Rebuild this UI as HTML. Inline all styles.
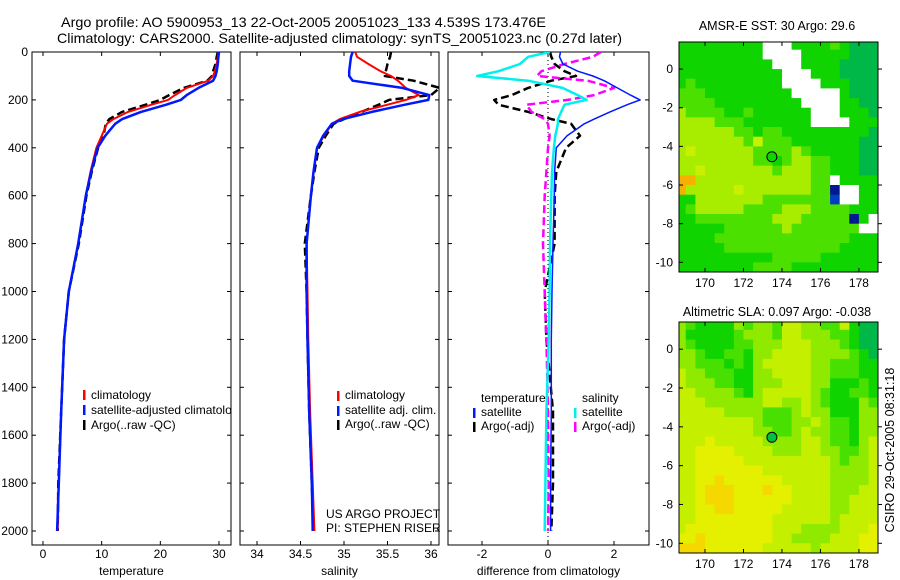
<!DOCTYPE html>
<html><head><meta charset="utf-8"><style>
body{margin:0;background:#fff;}
svg{display:block;font-family:"Liberation Sans",sans-serif;}
</style></head><body>
<svg id="c" width="900" height="580" viewBox="0 0 900 580">
<text x="61" y="27" font-size="14" textLength="485" lengthAdjust="spacingAndGlyphs">Argo profile: AO 5900953_13 22-Oct-2005 20051023_133 4.539S 173.476E</text>
<text x="57" y="43" font-size="14" textLength="565" lengthAdjust="spacingAndGlyphs">Climatology: CARS2000. Satellite-adjusted climatology: synTS_20051023.nc (0.27d later)</text>
<text x="777" y="30" font-size="12.5" text-anchor="middle">AMSR-E SST: 30 Argo: 29.6</text>
<text x="777" y="316" font-size="12.5" text-anchor="middle">Altimetric SLA: 0.097 Argo: -0.038</text>
<text transform="translate(894,450) rotate(-90)" font-size="12.5" text-anchor="middle">CSIRO 29-Oct-2005 08:31:18</text>
<g id="g"></g>
</svg>
<script>
// ---- profile data ----
const depths=[0,20,50,80,100,120,150,180,200,220,250,280,300,350,400,500,600,800,1000,1200,1500,1800,2000];
const tempClim=[29.9,29.8,29.6,29.3,29.0,28.2,24.5,22.5,21.3,18.5,14.5,12.0,10.9,10.0,9.1,8.1,7.3,6.0,4.4,3.6,3.1,2.7,2.5];
const tempSat=[30.0,29.9,29.8,29.6,29.4,29.0,26.5,24.5,23.5,21.0,16.7,13.5,12.3,10.6,9.3,8.2,7.3,6.0,4.4,3.6,3.1,2.7,2.4];
const tempArgo=[29.8,29.6,29.4,29.0,28.8,28.0,24.0,21.5,20.0,17.5,13.5,11.3,10.7,10.3,9.4,8.3,7.4,6.1,4.4,3.6,3.1,2.6,2.5];
const salClim=[35.13,35.15,35.28,35.42,35.54,35.62,35.71,35.86,35.71,35.5,35.18,34.95,34.86,34.77,34.69,34.65,34.62,34.57,34.58,34.59,34.61,34.64,34.66];
const salSat=[35.1,35.08,35.07,35.06,35.06,35.1,35.67,35.98,35.97,35.7,35.32,34.99,34.86,34.76,34.69,34.65,34.62,34.57,34.57,34.58,34.6,34.63,34.64];
const salArgo=[35.54,35.53,35.5,35.48,35.47,35.8,36.1,36.0,35.52,35.4,35.2,35.0,34.88,34.79,34.71,34.66,34.62,34.55,34.57,34.58,34.6,34.63,34.65];
const dTempSat=[0.38,0.35,0.45,0.9,1.36,1.7,2.1,2.5,2.79,2.4,1.88,1.4,1.1,0.58,0.25,0.2,0.19,0.15,0.12,0.1,0.1,0.08,0.08];
const dSalSat=[0.06,-0.6,-0.85,-1.5,-2.15,-0.6,0.44,0.9,1.17,0.5,0.4,0.3,0.3,0.22,0.18,0.12,0.1,0.06,0.05,0.02,-0.05,-0.08,-0.1];
const dSalArgo=[1.6,1.36,0.5,-0.2,-0.33,1.2,2.0,1.4,0.6,-0.65,-0.5,-0.1,0.0,0.05,0.0,-0.05,-0.1,-0.15,-0.1,-0.05,0.0,0.02,0.0];
const dTempArgo=[0.06,0.1,0.2,0.5,0.85,0.1,-0.6,-1.1,-1.63,-1.5,-0.6,0.1,0.7,0.97,0.55,0.25,0.2,0.2,-0.1,-0.05,0.15,0.15,0.1];
const depthTicks=[0,200,400,600,800,1000,1200,1400,1600,1800,2000];
const tempTicks=[0,10,20,30], salTicks=["34","34.5","35","35.5","36"], diffTicks=[-2,0,2];
// ---- map data (0.5 deg cells, lon 168.5..179, lat 1.5..-10.5) ----
const mapLon0=168.5, mapLat0=1.5, mapStep=0.5;
const sstRows=["aaaaaaaaawwwaaaabaeee","aaaaaaaaawwwwaaaaaeee","aaaaaaaaaawwwaaaaeeee","aaaaaaaaaaawwwaaaeeee","abaaaaaaaaawwwwaaaeee","bbbaaaaaaaaawwwwwaeee","bbbbaaaaaaaaawwwwaaee","cbbbbaabaaaaaawwwaaae","ccccbbbaaaaaaawwwwaaa","ccccccbbabbaaaaaaaaae","cccccccbdbbbaaaaaaaee","cdccccccbbbbcbaaaaaee","ccccccccbbabccbbaaaee","ccdcccccccbcccbbaaaee","ooccccccccccccbbwaaaa","occcccdcccccccbbnwwaa","aacccccccbbbbbbbkwwaa","abcccccbbbbcccbbbbaaa","aabbbbbbbbcccbbbbbnaw","aaaaabbbbbbcbbbbbbbww","aaaabbbbbbbbbbbbbbaaa","aaaaabbbbbbbbbbbbaaaa","aaaaaaaaaabbbbbaaaaaa","aaaaaaaabbbbaaaaaaaaa"];
const slaRows=["ihggggihiihjjiihhjgee","iggggghiiihjjiiihhgee","ihgggghhiiijjjiiihgee","iihgghhgiijjjjiiiihge","iihhhghgijjjjjiihhhgg","jiihhhggiijjjjiihhhgg","jiiihhggiiijjjiiggghg","jjiiiihgijjjjjihgghhg","jjjiiiiiijjiijihgggih","jjjjjiiiihhhijiigggii","jjjjjjjjihhhiijihhgii","jjjjjjjjiihhijiihhgii","jjjyjjjjjiiiijjihhgij","jjyyyyjjjjiiijjiihhij","jjyyyyyjjjjjjjjjihiij","jjyyyyyyyjjjjjjjiiiij","jjyyzyyyyyyjjjjjiiiij","jjyzzzyyyzyyjjjjiiijj","jjyzzzyyyyyyjjjjiijjj","jjyyzzyyyyyjjjjjiijjj","jjyyyyyyyyjjjjjjijjjj","jyyyyyyyyyjjjiiiijjjy","yyzyyyyyyyjjiiiijjjyy","zzzyyyyyyjjjjjijjjjyy"];
const argoLon=173.476, argoLat=-4.539;
const mapXTicks=[170,172,174,176,178], mapYTicks=[0,-2,-4,-6,-8,-10];
const pal={a:"#10d400",b:"#4ce000",c:"#a8ec00",d:"#c8f000",e:"#00b848",w:"#ffffff",o:"#f8b000",n:"#001890",k:"#0040c0",
 g:"#10d400",h:"#48e000",i:"#90ea00",j:"#c4f000",y:"#e4f000",z:"#f4d800"};

const NS="http://www.w3.org/2000/svg", G=document.getElementById('g');
function el(t,a,p){const e=document.createElementNS(NS,t);for(const k in a)e.setAttribute(k,a[k]);(p||G).appendChild(e);return e;}
function txt(x,y,s,a,p){const e=el('text',Object.assign({x:x,y:y,'font-size':12},a||{}),p);e.textContent=s;return e;}

const pTop=52, pBot=545, yPerM=(531-52)/2000;
const yScale=d=>pTop+d*yPerM;
const panels=[
 {l:32,r:231,x:v=>43+v*(219-43)/30,ticks:tempTicks,label:"temperature",name:"temperature-panel"},
 {l:240,r:439,x:v=>257+(v-34)*87,ticks:salTicks,label:"salinity",name:"salinity-panel"},
 {l:448,r:649,x:v=>548+v*33,ticks:diffTicks,label:"difference from climatology",name:"difference-panel"}];
panels.forEach((p,i)=>{
 const cp=el('clipPath',{id:'cp'+i});el('rect',{x:p.l,y:pTop,width:p.r-p.l,height:pBot-pTop},cp);
 const fr=el('rect',{x:p.l,y:pTop,width:p.r-p.l,height:pBot-pTop,fill:'none',stroke:'#000','stroke-width':1});
 
 
 p.ticks.forEach(t=>{const x=p.x(+t);el('line',{x1:x,x2:x,y1:pBot,y2:pBot-4,stroke:'#000'});el('line',{x1:x,x2:x,y1:pTop,y2:pTop+4,stroke:'#000'});
  const tl=txt(x,pBot+13,String(t),{'text-anchor':'middle'});
  
  });
 depthTicks.forEach(d=>{const y=yScale(d);el('line',{x1:p.l,x2:p.l+4,y1:y,y2:y,stroke:'#000'});el('line',{x1:p.r,x2:p.r-4,y1:y,y2:y,stroke:'#000'});});
 const al=txt((p.l+p.r)/2,pBot+30,p.label,{'text-anchor':'middle'});
 
 
});
depthTicks.forEach(d=>{const t=txt(28,yScale(d)+4,String(d),{'text-anchor':'end'});
 
 });
el('line',{x1:548,x2:548,y1:pTop,y2:pBot,stroke:'#000','stroke-dasharray':'1,3','stroke-width':1});
function series(pi,vals,color,dash,w,name){
 const p=panels[pi];const pts=depths.map((d,k)=>p.x(vals[k]).toFixed(1)+','+yScale(d).toFixed(1)).join(' ');
 const a={points:pts,fill:'none',stroke:color,'stroke-width':w,'clip-path':'url(#cp'+pi+')','stroke-linejoin':'round'};
 if(dash)a['stroke-dasharray']=dash;
 const e=el('polyline',a);
 
 
}
series(0,tempArgo,'#000','8,4',2.5,'temp-argo-line');
series(0,tempClim,'#f00',null,2,'temp-climatology-line');
series(0,tempSat,'#0018ff',null,2.5,'temp-satellite-line');
series(1,salArgo,'#000','8,4',2.5,'sal-argo-line');
series(1,salClim,'#f00',null,2,'sal-climatology-line');
series(1,salSat,'#0018ff',null,2.5,'sal-satellite-line');
series(2,dTempArgo,'#000','8,4',2.5,'diff-temp-argo-line');
series(2,dSalArgo,'#ff00ff','8,4',2.5,'diff-sal-argo-line');
series(2,dTempSat,'#0018ff',null,1.5,'diff-temp-satellite-line');
series(2,dSalSat,'#00f0f0',null,2.5,'diff-sal-satellite-line');
function leg(x,y,c,s){el('rect',{x:x,y:y-8,width:2.5,height:10,fill:c});const t=txt(x+8,y,s);
 
 }
const lg1=el('g',{'clip-path':'url(#cp0)'});
[['#f00','climatology'],['#0018ff','satellite-adjusted climatology'],['#000','Argo(..raw -QC)']].forEach((e,k)=>{el('rect',{x:83,y:390+k*15,width:2.5,height:10,fill:e[0]},lg1);const t=txt(91,399+k*15,e[1],{},lg1);});
leg(337,399,'#f00','climatology');leg(337,414,'#0018ff','satellite adj. clim.');leg(337,428,'#000','Argo(..raw -QC)');
txt(326,518,'US ARGO PROJECT');txt(326,532,'PI: STEPHEN RISER');
txt(481,402,'temperature');leg(473,416,'#0018ff','satellite');leg(473,430,'#000','Argo(-adj)');
txt(582,402,'salinity');leg(574,416,'#00f0f0','satellite');leg(574,430,'#ff00ff','Argo(-adj)');
// ---- maps ----
function drawMap(rows,L,T,R,B,name){
 const lon0=168.65,lon1=178.99,lat0=1.4,lat1=-10.5;
 const mx=v=>L+(v-lon0)/(lon1-lon0)*(R-L), my=v=>T+(lat0-v)/(lat0-lat1)*(B-T);
 const cp=el('clipPath',{id:'cp'+name});el('rect',{x:L,y:T,width:R-L,height:B-T},cp);
 const g=el('g',{'clip-path':'url(#cp'+name+')'});
 
 
 rows.forEach((row,r)=>{for(let c=0;c<row.length;c++){const lo=mapLon0+c*mapStep,la=mapLat0-r*mapStep;
  const x1=mx(lo),x2=mx(lo+mapStep),y1=my(la),y2=my(la-mapStep);
  const cell=el('rect',{x:x1.toFixed(1),y:y1.toFixed(1),width:(x2-x1+0.6).toFixed(1),height:(y2-y1+0.6).toFixed(1),fill:pal[row[c]]},g);
  
  }});
 el('rect',{x:L,y:T,width:R-L,height:B-T,fill:'none',stroke:'#000'});
 mapXTicks.forEach(v=>{const x=mx(v);el('line',{x1:x,x2:x,y1:B,y2:B-4,stroke:'#000'});el('line',{x1:x,x2:x,y1:T,y2:T+4,stroke:'#000'});txt(x,B+15,String(v),{'text-anchor':'middle'});});
 mapYTicks.forEach(v=>{const y=my(v);el('line',{x1:L,x2:L+4,y1:y,y2:y,stroke:'#000'});el('line',{x1:R,x2:R+4,y1:y,y2:y,stroke:'#000'});txt(L-6,y+4,String(v),{'text-anchor':'end'});});
 const pt=el('circle',{cx:mx(argoLon),cy:my(argoLat),r:5,fill:name==='sst'?'#10d400':'#00c040',stroke:'#000','stroke-width':1});
 
 
}
drawMap(sstRows,679,42,878,272,'sst');
drawMap(slaRows,679,322,878,553,'sla');
</script>
</body></html>
